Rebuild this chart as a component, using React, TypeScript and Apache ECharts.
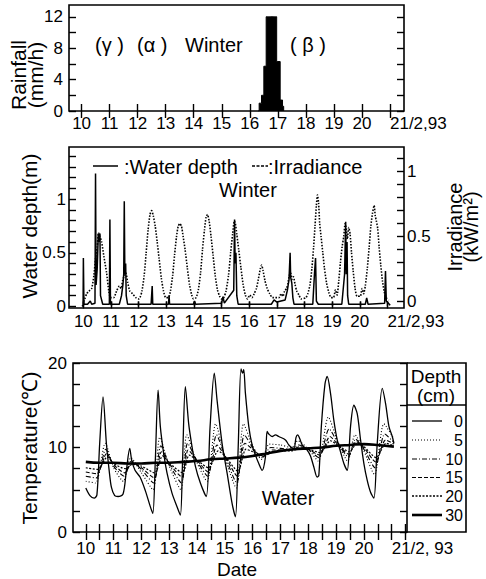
import { useEffect, useRef } from 'react';
import * as echarts from 'echarts';

// ---------- data ----------
const dayTicks = [10, 11, 12, 13, 14, 15, 16, 17, 18, 19, 20, 21];
const halfDayTicks = [10, 10.5, 11, 11.5, 12, 12.5, 13, 13.5, 14, 14.5, 15, 15.5, 16, 16.5, 17, 17.5, 18, 18.5, 19, 19.5, 20, 20.5, 21, 21.5];
const rainTicks = [0, 2, 4, 6, 8, 10, 12];
const rainLabels = [0, 4, 8, 12];
const depthTicks = [0, 0.1, 0.2, 0.3, 0.4, 0.5, 0.6, 0.7, 0.8, 0.9, 1, 1.1, 1.2, 1.3, 1.4];
const depthLabels = [0, 0.5, 1];
const irrTicks = [0, 0.1, 0.2, 0.3, 0.4, 0.5, 0.6, 0.7, 0.8, 0.9, 1, 1.1];
const irrLabels = [0, 0.5, 1];
const tempTicks = [0, 2.5, 5, 7.5, 10, 12.5, 15, 17.5, 20];
const tempLabels = [0, 10, 20];

// Rainfall (mm/h), hourly, time in days of Feb 1993
const rainTime = [16.3, 16.333, 16.375, 16.417, 16.458, 16.5, 16.542, 16.583, 16.625, 16.667, 16.708, 16.75, 16.792, 16.833, 16.875, 16.917, 16.958, 17.0, 17.042, 17.083, 17.125, 17.167, 17.208];
const rainMm = [0, 1.0, 1.0, 2.0, 2.0, 5.7, 5.7, 12, 12, 12, 12, 12, 12, 12, 12, 12, 6.3, 6.3, 6.3, 1.4, 1.4, 0.6, 0];

// Water depth (m)
const waterDepth: [number, number][] = [
  [9.95, 0], [9.99, 0.01], [10.0, 0.45], [10.02, 0.02], [10.15, 0.02], [10.25, 0.05], [10.3, 0.02], [10.42, 0.03],
  [10.44, 1.24], [10.46, 0.2], [10.5, 0.35], [10.54, 0.68], [10.57, 0.6], [10.6, 0.68], [10.62, 0.1], [10.7, 0.02],
  [10.94, 0.02], [10.96, 0.81], [10.98, 0.02], [11.3, 0.02], [11.38, 0.1], [11.43, 0.2], [11.46, 0.3], [11.48, 0.98],
  [11.5, 0.3], [11.53, 0.4], [11.55, 0.1], [11.6, 0.02], [12.45, 0.02], [12.49, 0.19], [12.51, 0.02], [13.08, 0.02],
  [13.1, 0.1], [13.12, 0.02], [13.98, 0.02], [14.02, 0.05], [14.06, 0.02], [15.0, 0.03], [15.05, 0.09], [15.1, 0.03],
  [15.44, 0.15], [15.47, 0.81], [15.49, 0.4], [15.52, 0.5], [15.55, 0.1], [15.6, 0.02], [16.8, 0.02], [16.9, 0.06],
  [17.0, 0.04], [17.3, 0.06], [17.38, 0.15], [17.44, 0.25], [17.48, 0.5], [17.5, 0.27], [17.54, 0.22], [17.58, 0.08],
  [17.62, 0.02], [18.3, 0.02], [18.36, 0.3], [18.4, 0.45], [18.43, 0.05], [18.5, 0.02], [19.35, 0.02], [19.45, 0.3],
  [19.49, 0.79], [19.51, 0.3], [19.54, 0.6], [19.56, 0.1], [19.6, 0.02], [20.2, 0.02], [20.25, 0.08], [20.3, 0.02],
  [20.9, 0.03], [20.93, 0.33], [20.96, 0.05], [21.1, 0.01]
];

// Irradiance (kW/m2)
const irradiance: [number, number][] = [
  [10.0, 0], [10.05, 0.02], [10.12, 0.06], [10.2, 0.08], [10.3, 0.1], [10.38, 0.2], [10.44, 0.33], [10.5, 0.42], [10.55, 0.53], [10.6, 0.5], [10.66, 0.46], [10.74, 0.35], [10.84, 0.22], [10.92, 0.08], [10.98, 0.03],
  [11.1, 0.03], [11.2, 0.08], [11.3, 0.12], [11.36, 0.1], [11.42, 0.16], [11.48, 0.2], [11.54, 0.22], [11.6, 0.15], [11.68, 0.08], [11.78, 0.06], [11.9, 0.03], [12.0, 0.02],
  [12.05, 0.03], [12.12, 0.08], [12.2, 0.2], [12.27, 0.37], [12.34, 0.55], [12.41, 0.67], [12.47, 0.7], [12.53, 0.66], [12.6, 0.58], [12.67, 0.46], [12.74, 0.33], [12.82, 0.18], [12.9, 0.08], [12.98, 0.03],
  [13.08, 0.03], [13.15, 0.08], [13.23, 0.2], [13.3, 0.36], [13.37, 0.5], [13.43, 0.58], [13.49, 0.6], [13.55, 0.58], [13.61, 0.5], [13.68, 0.4], [13.76, 0.26], [13.84, 0.13], [13.92, 0.05], [13.98, 0.02],
  [14.08, 0.03], [14.16, 0.09], [14.24, 0.22], [14.31, 0.4], [14.38, 0.55], [14.44, 0.65], [14.49, 0.67], [14.55, 0.62], [14.62, 0.5], [14.69, 0.36], [14.77, 0.2], [14.85, 0.09], [14.93, 0.04], [15.0, 0.02],
  [15.08, 0.03], [15.16, 0.08], [15.25, 0.2], [15.33, 0.38], [15.4, 0.52], [15.46, 0.62], [15.5, 0.6], [15.55, 0.52], [15.62, 0.4], [15.7, 0.26], [15.78, 0.13], [15.86, 0.05], [15.94, 0.02],
  [16.02, 0.05], [16.1, 0.03], [16.18, 0.06], [16.26, 0.1], [16.33, 0.17], [16.4, 0.25], [16.45, 0.28], [16.5, 0.24], [16.57, 0.16], [16.65, 0.1], [16.74, 0.06], [16.84, 0.03],
  [17.08, 0.03], [17.15, 0.06], [17.22, 0.04], [17.28, 0.08], [17.35, 0.1], [17.4, 0.14], [17.45, 0.2], [17.5, 0.22], [17.55, 0.17], [17.6, 0.19], [17.66, 0.13], [17.72, 0.08], [17.8, 0.05], [17.88, 0.02],
  [18.05, 0.03], [18.12, 0.06], [18.2, 0.13], [18.27, 0.26], [18.33, 0.42], [18.38, 0.58], [18.43, 0.74], [18.47, 0.82], [18.51, 0.76], [18.55, 0.6], [18.6, 0.5], [18.66, 0.38], [18.72, 0.26], [18.8, 0.14], [18.88, 0.07], [18.96, 0.03],
  [19.05, 0.03], [19.12, 0.09], [19.18, 0.05], [19.24, 0.16], [19.3, 0.3], [19.36, 0.42], [19.42, 0.5], [19.47, 0.6], [19.5, 0.58], [19.55, 0.48], [19.6, 0.57], [19.65, 0.52], [19.7, 0.38], [19.76, 0.24], [19.83, 0.1], [19.9, 0.04],
  [20.02, 0.04], [20.08, 0.1], [20.14, 0.06], [20.2, 0.12], [20.27, 0.25], [20.34, 0.42], [20.4, 0.58], [20.46, 0.68], [20.52, 0.74], [20.56, 0.66], [20.6, 0.62], [20.65, 0.56], [20.7, 0.42], [20.76, 0.28], [20.82, 0.16], [20.88, 0.08], [20.95, 0.03], [21.05, 0.01]
];

// Water temperature (deg C) at depths
const temp0cm: [number, number][] = [
  [10.0, 5.2], [10.15, 4.3], [10.3, 4.0], [10.4, 4.4], [10.5, 10.5], [10.62, 16.0], [10.74, 10.5], [10.84, 7.3], [10.92, 5.3], [11.04, 4.3], [11.16, 4.2], [11.34, 4.5], [11.46, 7.3], [11.58, 9.9], [11.65, 8.5], [11.77, 7.3], [11.95, 6.5],
  [12.14, 4.9], [12.32, 3.0], [12.41, 2.2], [12.5, 8.5], [12.6, 16.8], [12.68, 12.5], [12.8, 9.3], [12.92, 7.0], [13.1, 4.6], [13.28, 3.0], [13.4, 2.0], [13.48, 8.5], [13.58, 17.2], [13.7, 12.8], [13.82, 10.1], [13.94, 7.8],
  [14.12, 5.8], [14.33, 4.2], [14.47, 12.5], [14.62, 18.8], [14.72, 15.6], [14.9, 10.5], [15.08, 7.0], [15.26, 3.4], [15.38, 1.8], [15.48, 10.0], [15.58, 19.3], [15.64, 18.8], [15.68, 19.2], [15.74, 16.4], [15.86, 12.5], [15.98, 10.3],
  [16.1, 9.1], [16.22, 8.1], [16.34, 7.3], [16.46, 8.9], [16.52, 11.9], [16.58, 11.6], [16.7, 11.3], [16.82, 11.5], [16.94, 11.3], [17.18, 10.9], [17.3, 10.3], [17.48, 9.9], [17.56, 11.2], [17.62, 11.5], [17.7, 11.0], [17.78, 10.3], [17.96, 9.7],
  [18.08, 9.0], [18.2, 7.7], [18.32, 6.5], [18.38, 6.7], [18.47, 12.5], [18.6, 17.5], [18.68, 18.4], [18.8, 16.4], [18.92, 13.2], [19.04, 10.9], [19.16, 9.5], [19.28, 8.1], [19.4, 7.3], [19.52, 12.5], [19.64, 15.0], [19.76, 14.0], [19.88, 10.9],
  [20.0, 8.1], [20.12, 6.1], [20.24, 4.7], [20.36, 4.0], [20.48, 10.5], [20.66, 17.0], [20.78, 15.2], [20.9, 12.5], [21.02, 11.3], [21.08, 10.5]
];
const temp5cm: [number, number][] = [
  [10.0, 6.0], [10.35, 5.8], [10.7, 10.5], [11.0, 7.6], [11.35, 6.0], [11.62, 8.8], [12.0, 7.0], [12.42, 5.0], [12.66, 11.2], [13.0, 7.8], [13.42, 5.0], [13.63, 11.5], [14.0, 8.2], [14.36, 6.0], [14.67, 12.8], [15.0, 8.8], [15.41, 5.2],
  [15.67, 12.8], [16.0, 10.2], [16.32, 8.6], [16.6, 10.4], [17.0, 10.3], [17.4, 10.0], [17.62, 10.8], [18.0, 9.8], [18.36, 8.4], [18.72, 13.6], [19.05, 10.8], [19.42, 8.4], [19.68, 11.5], [20.0, 9.6], [20.38, 6.8], [20.72, 12.8], [21.08, 11.0]
];
const temp10cm: [number, number][] = [
  [10.0, 6.6], [10.38, 6.4], [10.72, 9.8], [11.0, 7.8], [11.38, 6.6], [11.64, 8.4], [12.0, 7.4], [12.44, 5.8], [12.7, 10.2], [13.0, 8.0], [13.44, 5.8], [13.66, 10.5], [14.0, 8.4], [14.38, 6.6], [14.7, 11.5], [15.0, 9.0], [15.43, 5.8],
  [15.7, 11.5], [16.0, 10.0], [16.34, 8.8], [16.65, 10.0], [17.0, 9.9], [17.4, 9.8], [17.65, 10.3], [18.0, 9.8], [18.38, 8.8], [18.75, 12.2], [19.05, 10.6], [19.44, 8.9], [19.7, 11.0], [20.0, 9.8], [20.4, 7.6], [20.75, 11.6], [21.08, 10.6]
];
const temp15cm: [number, number][] = [
  [10.0, 7.1], [10.4, 6.9], [10.75, 9.3], [11.0, 8.0], [11.4, 7.0], [11.66, 8.2], [12.0, 7.6], [12.46, 6.4], [12.72, 9.5], [13.0, 8.1], [13.46, 6.5], [13.68, 9.7], [14.0, 8.5], [14.4, 7.1], [14.72, 10.3], [15.0, 9.0], [15.45, 6.6],
  [15.72, 10.5], [16.0, 9.8], [16.36, 8.9], [16.7, 9.7], [17.0, 9.7], [17.4, 9.7], [17.68, 10.1], [18.0, 9.8], [18.4, 9.1], [18.78, 11.3], [19.05, 10.4], [19.46, 9.2], [19.72, 10.7], [20.0, 10.0], [20.42, 8.3], [20.78, 10.9], [21.08, 10.4]
];
const temp20cm: [number, number][] = [
  [10.0, 7.6], [10.42, 7.4], [10.78, 8.9], [11.0, 8.1], [11.42, 7.5], [11.68, 8.0], [12.0, 7.8], [12.48, 7.0], [12.76, 9.0], [13.0, 8.2], [13.48, 7.0], [13.72, 9.1], [14.0, 8.5], [14.42, 7.6], [14.76, 9.6], [15.0, 9.0], [15.47, 7.2],
  [15.76, 9.8], [16.0, 9.5], [16.38, 9.0], [16.75, 9.5], [17.0, 9.6], [17.4, 9.6], [17.7, 9.9], [18.0, 9.8], [18.42, 9.4], [18.8, 10.8], [19.05, 10.3], [19.48, 9.5], [19.75, 10.5], [20.0, 10.1], [20.44, 8.8], [20.8, 10.5], [21.08, 10.2]
];
const temp30cm: [number, number][] = [
  [10.0, 8.3], [10.5, 8.2], [11.0, 8.2], [11.5, 8.1], [12.0, 8.1], [12.5, 8.2], [13.0, 8.2], [13.5, 8.3], [14.0, 8.4], [14.5, 8.6], [15.0, 8.7], [15.5, 8.8],
  [16.0, 9.0], [16.5, 9.3], [17.0, 9.6], [17.5, 9.8], [18.0, 9.9], [18.5, 10.0], [19.0, 10.2], [19.5, 10.3], [20.0, 10.4], [20.5, 10.3], [21.08, 10.1]
];
const depthNames = ['0', '5', '10', '15', '20', '30'];

const FONT = '"Liberation Sans", Arial, Helvetica, sans-serif';
const BLACK = '#000';

function tickAxis(gridIndex: number, min: number, max: number, ticks: number[], position: string, len = 7) {
  return {
    type: 'value', gridIndex, min, max, position,
    axisLine: { show: false },
    splitLine: { show: false },
    axisTick: { show: true, inside: true, length: len, customValues: ticks, lineStyle: { color: BLACK, width: 1.4 } },
    axisLabel: { show: false },
  } as any;
}

function labelAxis(gridIndex: number, min: number, max: number, ticks: number[], labels: number[], position: string, fmt: (v: number) => string, margin: number, extra: any = {}, len = 7) {
  return {
    type: 'value', gridIndex, min, max, position,
    axisLine: { show: false },
    splitLine: { show: false },
    axisTick: { show: true, inside: true, length: len, customValues: ticks, lineStyle: { color: BLACK, width: 1.4 } },
    axisLabel: { show: true, customValues: labels, formatter: fmt, color: BLACK, fontSize: 17, fontFamily: FONT, margin, ...extra },
  } as any;
}

const dayFmt = (last: string) => (v: number) => (v === 21 ? last : String(v));
const numFmt = (v: number) => String(v);

export default function App() {
  const ref = useRef<HTMLDivElement>(null);
  useEffect(() => {
    if (!ref.current) return;
    const chart = echarts.init(ref.current, undefined, { renderer: 'svg' });

    const gridBase = { show: true, borderColor: BLACK, borderWidth: 1.6, backgroundColor: 'transparent', outerBoundsMode: 'none' };

    const rainData = rainTime.map((t, i) => [t, rainMm[i]]);

    const tLine = (name: string, data: [number, number][], width: number, type: any, smooth = 0.25) => ({
      name, type: 'line', xAxisIndex: 4, yAxisIndex: 4, data, showSymbol: false, smooth,
      lineStyle: { color: BLACK, width, type }, z: 3,
    });

    const legendRows = [
      { y: 421, width: 1.3, dash: null as any },
      { y: 440, width: 1.1, dash: [1, 2] },
      { y: 459, width: 1.1, dash: [5, 2, 1, 2] },
      { y: 477.5, width: 1.1, dash: [4, 2] },
      { y: 496, width: 1.3, dash: [2, 1.5] },
      { y: 515, width: 2.6, dash: null as any },
    ];

    const txt = (text: string, x: number, y: number, size = 20, align = 'left', extra: any = {}) => ({
      type: 'text', x, y, ...extra,
      style: { text, fontSize: size, fontFamily: FONT, fill: BLACK, align, verticalAlign: 'middle', ...(extra.style || {}) },
    });

    const option: any = {
      animation: false,
      backgroundColor: '#fff',
      grid: [
        { ...gridBase, left: 69, top: 5, width: 335, height: 106 },
        { ...gridBase, left: 69, top: 147, width: 335, height: 161 },
        { ...gridBase, left: 73, top: 363, width: 334, height: 169 },
      ],
      xAxis: [
        labelAxis(0, 9.55, 21.5, dayTicks, dayTicks, 'bottom', dayFmt('21/2,93'), 4, { alignMaxLabel: 'left' }),
        tickAxis(0, 9.55, 21.5, dayTicks, 'top'),
        labelAxis(1, 9.48, 21.6, dayTicks, dayTicks, 'bottom', dayFmt('21/2,93'), 5, { alignMaxLabel: 'left' }, 5),
        tickAxis(1, 9.48, 21.6, dayTicks, 'top'),
        labelAxis(2, 9.54, 21.55, halfDayTicks, dayTicks, 'bottom', dayFmt('21/2, 93'), 8, { alignMaxLabel: 'left' }, 8),
        tickAxis(2, 9.54, 21.55, halfDayTicks, 'top', 8),
      ],
      yAxis: [
        labelAxis(0, 0, 13.5, rainTicks, rainLabels, 'left', numFmt, 6),
        tickAxis(0, 0, 13.5, rainTicks, 'right'),
        labelAxis(1, -0.015, 1.486, depthTicks, depthLabels, 'left', numFmt, 3),
        labelAxis(1, -0.05, 1.19, irrTicks, irrLabels, 'right', numFmt, 3),
        labelAxis(2, 0, 20, tempTicks, tempLabels, 'left', numFmt, 6),
        tickAxis(2, 0, 20, tempTicks, 'right'),
      ],
      series: [
        {
          name: 'Rainfall', type: 'line', xAxisIndex: 0, yAxisIndex: 0, data: rainData, step: 'end', showSymbol: false,
          lineStyle: { color: BLACK, width: 1 }, areaStyle: { color: BLACK, opacity: 1 },
        },
        {
          name: 'Water depth', type: 'line', xAxisIndex: 2, yAxisIndex: 2, data: waterDepth, showSymbol: false,
          lineStyle: { color: BLACK, width: 1.5 }, z: 4,
        },
        {
          name: 'Irradiance', type: 'line', xAxisIndex: 2, yAxisIndex: 3, data: irradiance, showSymbol: false, smooth: 0.2,
          lineStyle: { color: BLACK, width: 1.6, type: [1.5, 1.5] }, z: 3,
        },
        tLine('30', temp30cm, 2.6, 'solid', 0.4),
        tLine('20', temp20cm, 1.2, [2, 1.5]),
        tLine('15', temp15cm, 1.1, [4, 2]),
        tLine('10', temp10cm, 1.1, [5, 2, 1, 2]),
        tLine('5', temp5cm, 1.1, [1, 2]),
        tLine('0', temp0cm, 1.3, 'solid', 0.3),
      ],
      graphic: [
        // axis titles
        txt('Rainfall\n(mm/h)', 27, 75, 21, 'center', { rotation: Math.PI / 2, style: { lineHeight: 17 } }),
        txt('Water depth(m)', 29, 226, 21, 'center', { rotation: Math.PI / 2 }),
        txt('Irradiance\n(kW/m²)', 463, 227, 20, 'center', { rotation: Math.PI / 2, style: { lineHeight: 16 } }),
        txt('Temperature(℃)', 29, 448, 21, 'center', { rotation: Math.PI / 2 }),
        txt('Date', 237, 569, 19, 'center'),
        // panel 1 annotations
        txt('(γ )', 95, 45, 20),
        txt('(α )', 137, 45, 20),
        txt('Winter', 185, 45, 20),
        txt('( β )', 290, 45, 20),
        // panel 2 legend
        { type: 'line', shape: { x1: 93, y1: 166, x2: 118, y2: 166 }, style: { stroke: BLACK, lineWidth: 1.5 } },
        txt(':Water depth', 124, 167, 20),
        { type: 'line', shape: { x1: 252, y1: 166, x2: 268, y2: 166 }, style: { stroke: BLACK, lineWidth: 1.3, lineDash: [3, 1.5] } },
        txt(':Irradiance', 268, 167, 20),
        txt('Winter', 248, 190, 20, 'center'),
        // panel 3
        txt('Water', 288, 498, 20, 'center'),
        { type: 'polyline', shape: { points: [[407, 363], [466, 363], [466, 532], [407, 532]] }, style: { stroke: BLACK, lineWidth: 1.6, fill: null } },
        { type: 'line', shape: { x1: 407, y1: 405, x2: 466, y2: 405 }, style: { stroke: BLACK, lineWidth: 1.6 } },
        txt('Depth', 436, 376, 19, 'center'),
        txt('(cm)', 436, 395, 19, 'center'),
        ...legendRows.map((r) => ({
          type: 'line', shape: { x1: 412, y1: r.y, x2: 442, y2: r.y },
          style: { stroke: BLACK, lineWidth: r.width, lineDash: r.dash },
        })),
        ...legendRows.map((r, i) => txt(depthNames[i], 463, r.y, 16, 'right', { style: { lineHeight: 15 } })),
      ],
    };
    chart.setOption(option);
    return () => chart.dispose();
  }, []);

  return <div ref={ref} style={{ position: 'fixed', left: 0, top: 0, width: 486, height: 579, background: '#fff' }} />;
}
